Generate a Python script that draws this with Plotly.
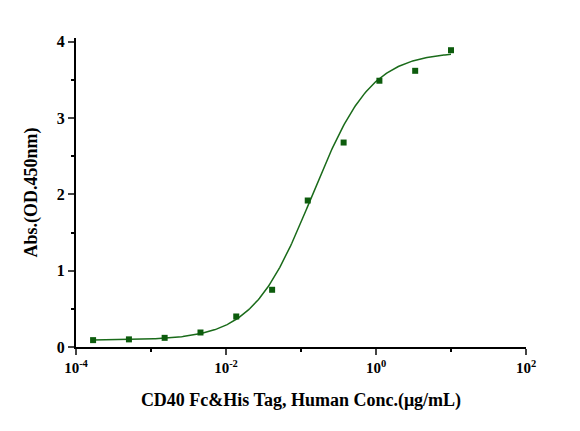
import numpy as np
import plotly.graph_objects as go

conc = [0.000169, 0.000508, 0.00152, 0.00457, 0.0137, 0.0412, 0.123, 0.370, 1.11, 3.33, 10.0]
absorb = [0.09, 0.10, 0.12, 0.19, 0.40, 0.75, 1.92, 2.68, 3.49, 3.62, 3.89]
x_tickvals = [1e-4, 1e-2, 1e0, 1e2]
x_ticktext = ["<b>10<sup>-4</sup></b>", "<b>10<sup>-2</sup></b>", "<b>10<sup>0</sup></b>", "<b>10<sup>2</sup></b>"]
y_tickvals = [0, 1, 2, 3, 4]
y_ticktext = ["<b>0</b>", "<b>1</b>", "<b>2</b>", "<b>3</b>", "<b>4</b>"]

# 4PL fit parameters (estimated)
bottom, top, ec50, hill = 0.09, 3.87, 0.14, 1.1
xf = np.logspace(np.log10(conc[0]), np.log10(conc[-1]), 300)
yf = bottom + (top - bottom) / (1 + (ec50 / xf) ** hill)

green = "#1a6b1a"
fig = go.Figure()
fig.add_trace(go.Scatter(x=xf, y=yf, mode="lines", line=dict(color=green, width=1.5)))
fig.add_trace(go.Scatter(x=conc, y=absorb, mode="markers",
                         marker=dict(symbol="square", size=6, color="#0d5c0d")))
font = dict(family="Liberation Serif", size=15, color="black")
fig.update_layout(
    width=580, height=431, showlegend=False, plot_bgcolor="white", paper_bgcolor="white",
    margin=dict(l=68, r=62, t=30, b=92), font=font,
    xaxis=dict(type="log", range=[-4, 2], tickvals=x_tickvals, ticktext=x_ticktext,
               ticks="outside", ticklen=6, tickwidth=2, linecolor="black", linewidth=2,
               showgrid=False, zeroline=False,
               minor=dict(ticks="outside", ticklen=3, tickvals=[1e-3, 1e-1, 1e1], tickcolor="black"),
               title=dict(text="<b>CD40 Fc&His Tag, Human Conc.(μg/mL)</b>", standoff=18),
               tickfont=dict(family="Liberation Serif", size=15)),
    yaxis=dict(range=[0, 4.05], tickvals=y_tickvals, ticktext=y_ticktext, ticks="outside", ticklen=6, tickwidth=2,
               linecolor="black", linewidth=2, showgrid=False, zeroline=False,
               minor=dict(ticks="outside", ticklen=3, dtick=0.5, tickcolor="black"),
               title=dict(text="<b>Abs.(OD.450nm)</b>", standoff=14),
               tickfont=dict(family="Liberation Serif", size=16)),
)
fig.write_html("out.html")
